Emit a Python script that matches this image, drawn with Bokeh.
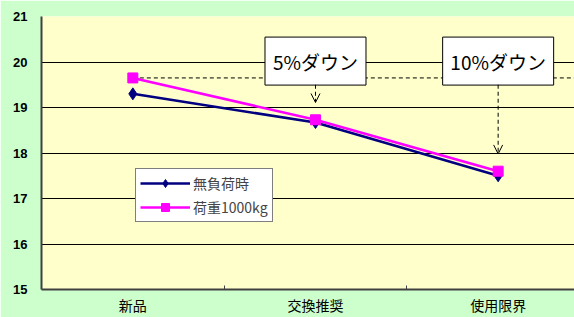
from bokeh.plotting import figure
from bokeh.models import (Range1d, FixedTicker, Legend, LegendItem, Arrow, OpenHead,
                          ColumnDataSource)
from bokeh.core.properties import value
from bokeh.embed import file_html
from bokeh.resources import INLINE

categories = ["新品", "交換推奨", "使用限界"]
series_names = ["無負荷時", "荷重1000kg"]
no_load = [19.30, 18.67, 17.50]
load_1000 = [19.65, 18.73, 17.60]
y_ticks = [15, 16, 17, 18, 19, 20, 21]
notes = ["5%ダウン", "10%ダウン"]
note_cats = [1, 2]

JP = "Noto Sans CJK JP"
xs = list(range(len(categories)))

p = figure(width=574, height=317, output_backend="svg", toolbar_location=None,
           x_range=Range1d(-0.5, 2.418), y_range=Range1d(15, 21),
           min_border_left=41, min_border_right=0, min_border_top=16, min_border_bottom=26)
p.border_fill_color = "#CCFFCC"
p.background_fill_color = "#FFFFCC"
p.outline_line_color = None

# axes
p.xaxis.ticker = FixedTicker(ticks=xs, minor_ticks=[0.5, 1.5])
p.xaxis.major_label_overrides = {i: c for i, c in enumerate(categories)}
p.xaxis.major_tick_line_color = None
p.xaxis.major_tick_in = 0
p.xaxis.major_tick_out = 0
p.xaxis.minor_tick_in = 4
p.xaxis.minor_tick_out = 0
p.xaxis.minor_tick_line_color = "#404040"
p.xaxis.major_label_text_font = JP
p.xaxis.major_label_text_font_size = "14px"
p.xaxis.major_label_text_color = "black"
p.xaxis.major_label_standoff = 5
p.xaxis.axis_line_color = "#404040"
p.xaxis.axis_line_width = 2

p.yaxis.ticker = FixedTicker(ticks=y_ticks)
p.yaxis.major_tick_line_color = None
p.yaxis.major_tick_in = 0
p.yaxis.major_tick_out = 0
p.yaxis.minor_tick_line_color = None
p.yaxis.major_label_text_font = "Liberation Sans"
p.yaxis.major_label_text_font_size = "13px"
p.yaxis.major_label_text_font_style = "bold"
p.yaxis.major_label_text_color = "black"
p.yaxis.major_label_standoff = 14
p.yaxis.axis_line_color = "#404040"
p.yaxis.axis_line_width = 2

p.xgrid.grid_line_color = None
p.ygrid.ticker = FixedTicker(ticks=y_ticks[1:-1])
p.ygrid.grid_line_color = "black"
p.ygrid.grid_line_width = 1

# dashed reference line at new magenta level
p.segment(x0=[xs[0]], y0=[load_1000[0]], x1=[2.6], y1=[load_1000[0]],
          line_color="black", line_dash="4 3", line_width=1)

# arrows
for c in note_cats:
    p.add_layout(Arrow(end=OpenHead(size=9, line_color="black", line_width=1),
                       x_start=c, y_start=19.5, x_end=c, y_end=load_1000[c] + 0.38,
                       line_color="black", line_dash="4 3", line_width=1))

# series
r1 = p.line(xs, no_load, line_color="#000080", line_width=2.5)
m1 = p.scatter(xs, no_load, marker="diamond", size=12, fill_color="#000080", line_color="#000080")
r2 = p.line(xs, load_1000, line_color="#FF00FF", line_width=2.5)
m2 = p.scatter(xs, load_1000, marker="square", size=10, fill_color="#FF00FF", line_color="#FF00FF")

# note boxes
nsrc = ColumnDataSource(dict(x=note_cats, y=[20.02] * len(notes), t=notes, w=[101, 111]))
p.rect(x="x", y="y", width="w", height=48, width_units="screen", height_units="screen",
       source=nsrc, fill_color="white", line_color="black", line_width=1)
p.text(x="x", y="y", text="t", source=nsrc, text_align="center", text_baseline="middle",
       text_font=value(JP), text_font_size="19px", text_color="black")

legend = Legend(items=[LegendItem(label=series_names[0], renderers=[r1, m1]),
                       LegendItem(label=series_names[1], renderers=[r2, m2])],
                location=(94, 67), glyph_width=50, glyph_height=20, spacing=4,
                label_text_font=JP, label_text_font_size="14px",
                border_line_color="black", border_line_width=1,
                background_fill_color="white", background_fill_alpha=1,
                padding=4, margin=0, label_standoff=3)
p.add_layout(legend)

open("out.html", "w").write(file_html(p, INLINE))
